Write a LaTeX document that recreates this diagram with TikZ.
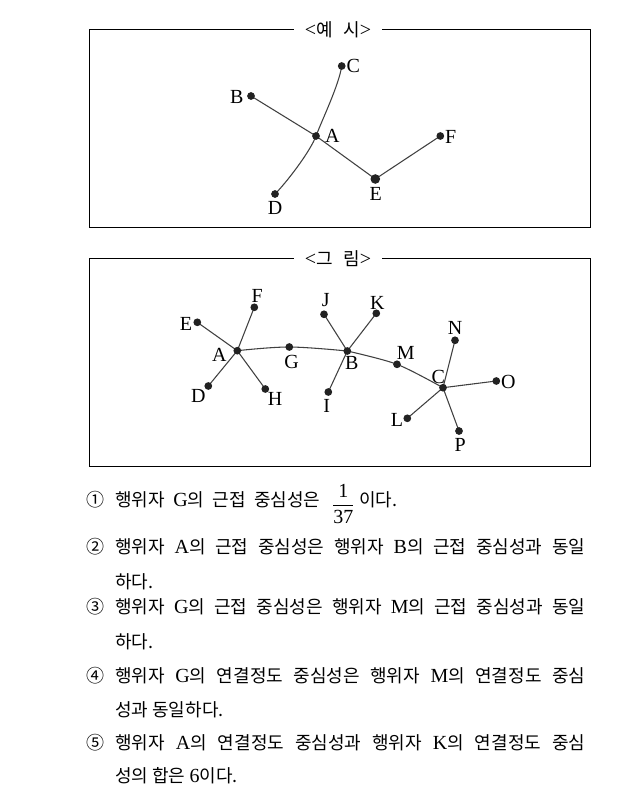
\documentclass[tikz,border=0pt]{standalone}
\usepackage{fontspec}
\usetikzlibrary{backgrounds}
\setmainfont{Liberation Serif}
\newfontfamily\krfont{Noto Sans CJK KR}
\newcommand\ko{\krfont\fontsize{13.5}{16}\selectfont}
\newcommand\la{\rmfamily\fontsize{15}{18}\selectfont}
\definecolor{edgec}{HTML}{404040}
\definecolor{dotc}{HTML}{222222}
\begin{document}
\begin{tikzpicture}[x=0.75pt,y=-0.75pt,
  dot/.style={circle,fill=dotc,inner sep=0pt,minimum size=5.8pt},
  bigdot/.style={dot,minimum size=7.2pt},
  lbl/.style={font=\la,inner sep=0pt},
  edge/.style={draw=edgec,line width=0.8pt},
  frame/.style={draw=black,line width=0.75pt},
  boxtitle/.style={fill=white,inner xsep=8pt,inner ysep=1pt,font=\la},
  txt/.style={anchor=base west,inner sep=0pt,font=\ko},
]
\useasboundingbox (0,0) rectangle (624,809);

% ---------- example box ----------
\draw[frame] (89.7,29.7) rectangle (590.7,227.7);
\node[boxtitle] (t1) at (338,29.7) {<{\ko 예}\hspace{8pt}{\ko 시}>};

\node[dot] (C) at (341.7,66) {};
\node[dot] (B) at (251,96) {};
\node[dot] (A) at (316,136) {};
\node[dot] (F) at (440.3,136) {};
\node[bigdot] (E) at (375.3,179) {};
\node[dot] (D) at (275,194) {};

\node[lbl] (lC) at (353.3,66) {C};
\node[lbl] (lB) at (236.7,96.7) {B};
\node[lbl] (lA) at (332.3,135.7) {A};
\node[lbl] (lF) at (450.7,137.3) {F};
\node[lbl] (lE) at (375.7,194) {E};
\node[lbl] (lD) at (275,208.3) {D};

\begin{scope}[on background layer]
\draw[edge] (B.center) -- (A.center) -- (E.center) -- (F.center);
\draw[edge] (C.center) .. controls (339,85) and (322,120) .. (A.center)
  .. controls (310,152) and (286,183) .. (D.center);
\end{scope}

% ---------- figure box ----------
\draw[frame] (89.7,258.7) rectangle (590.7,466);
\node[boxtitle] (t2) at (338,258.7) {<{\ko 그}\hspace{8pt}{\ko 림}>};

\node[dot] (gA) at (237.3,350.7) {};
\node[dot] (gF) at (254.3,307.3) {};
\node[dot] (gE) at (197.3,322.3) {};
\node[dot] (gD) at (208.3,386) {};
\node[dot] (gH) at (265.3,389) {};
\node[dot] (gG) at (289.3,347) {};
\node[dot] (gB) at (347.3,351) {};
\node[dot] (gJ) at (324,314.3) {};
\node[dot] (gK) at (376.3,313.3) {};
\node[dot] (gI) at (328.3,392) {};
\node[dot] (gM) at (397,364.3) {};
\node[dot] (gC) at (443,387.7) {};
\node[dot] (gN) at (455,340.3) {};
\node[dot] (gO) at (496.3,381) {};
\node[dot] (gL) at (407.3,418.3) {};
\node[dot] (gP) at (459,431) {};

\node[lbl] (lgA) at (219.3,355) {A};
\node[lbl] (lgF) at (257.3,295.7) {F};
\node[lbl] (lgE) at (186,324) {E};
\node[lbl] (lgD) at (198.3,395.7) {D};
\node[lbl] (lgH) at (275,398.7) {H};
\node[lbl] (lgG) at (291.7,362.3) {G};
\node[lbl] (lgB) at (351.7,363.3) {B};
\node[lbl] (lgJ) at (325.7,300.3) {J};
\node[lbl] (lgK) at (377.3,303.3) {K};
\node[lbl] (lgI) at (326.7,405.7) {I};
\node[lbl] (lgM) at (405.7,353.3) {M};
\node[lbl] (lgC) at (438.3,376.7) {C};
\node[lbl] (lgN) at (455,327.7) {N};
\node[lbl] (lgO) at (508.3,381.7) {O};
\node[lbl] (lgL) at (397,420) {L};
\node[lbl] (lgP) at (460.3,445) {P};

\begin{scope}[on background layer]
\draw[edge] (gA.center) -- (gE.center);
\draw[edge] (gA.center) -- (gF.center);
\draw[edge] (gA.center) -- (gD.center);
\draw[edge] (gA.center) -- (gH.center);
\draw[edge] plot[smooth,tension=0.6] coordinates {(gA.center) (gG.center) (gB.center)};
\draw[edge] (gB.center) -- (gJ.center);
\draw[edge] (gB.center) -- (gK.center);
\draw[edge] (gB.center) -- (gI.center);
\draw[edge] plot[smooth,tension=0.5] coordinates {(gB.center) (gM.center) (gC.center)};
\draw[edge] (gC.center) -- (gN.center);
\draw[edge] (gC.center) -- (gO.center);
\draw[edge] (gC.center) -- (gL.center);
\draw[edge] (gC.center) -- (gP.center);
\end{scope}

% ---------- options ----------
\node[txt] (n1) at (86,506) {①};
\node[txt] (o1) at (115,506) {\makebox[153.75pt][s]{행위자 {\la G}의 근접 중심성은}};
\node[font=\la,inner sep=0pt] (frac) at (343.3,504) {$\displaystyle\frac{\mbox{1}}{\mbox{37}}$};
\node[txt] (o1b) at (359,506) {이다.};

\node[txt] (n2) at (86,553) {②};
\node[txt] (o2) at (115,553) {\makebox[352.5pt][s]{행위자 {\la A}의 근접 중심성은 행위자 {\la B}의 근접 중심성과 동일}};
\node[txt] (o2b) at (115,588) {하다.};

\node[txt] (n3) at (86,613) {③};
\node[txt] (o3) at (115,613) {\makebox[352.5pt][s]{행위자 {\la G}의 근접 중심성은 행위자 {\la M}의 근접 중심성과 동일}};
\node[txt] (o3b) at (115,648) {하다.};

\node[txt] (n4) at (86,682) {④};
\node[txt] (o4) at (115,682) {\makebox[352.5pt][s]{행위자 {\la G}의 연결정도 중심성은 행위자 {\la M}의 연결정도 중심}};
\node[txt] (o4b) at (115,716) {성과 동일하다.};

\node[txt] (n5) at (86,749) {⑤};
\node[txt] (o5) at (115,749) {\makebox[352.5pt][s]{행위자 {\la A}의 연결정도 중심성과 행위자 {\la K}의 연결정도 중심}};
\node[txt] (o5b) at (115,782) {성의 합은 {\la 6}이다.};
\end{tikzpicture}
\end{document}
